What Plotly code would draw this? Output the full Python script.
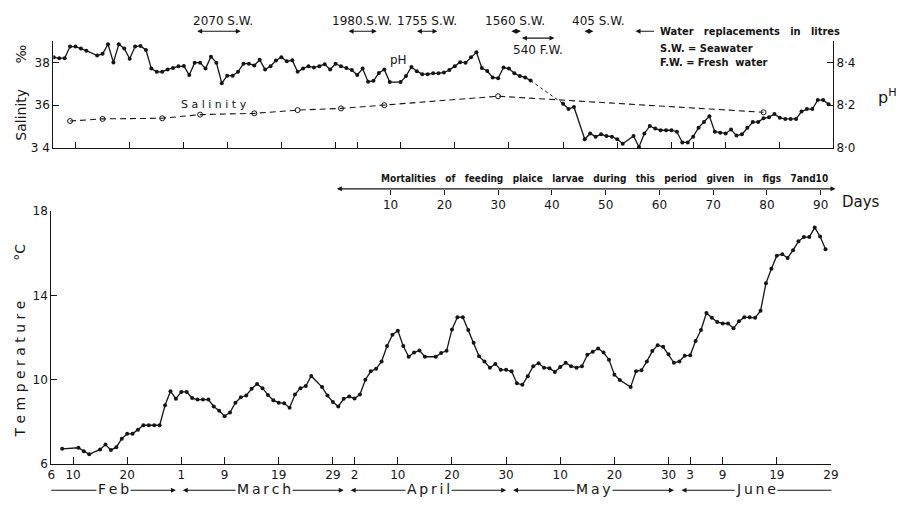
import pandas as pd
import plotly.graph_objects as go

# ---------------------------------------------------------------- data
START = pd.Timestamp("1956-02-06")

# date ticks along the time axis (day of month shown)
tick_dates = ["1956-02-06", "1956-02-10", "1956-02-20", "1956-03-01", "1956-03-09",
              "1956-03-19", "1956-03-29", "1956-04-02", "1956-04-10", "1956-04-20",
              "1956-04-30", "1956-05-10", "1956-05-20", "1956-05-30", "1956-06-03",
              "1956-06-09", "1956-06-19", "1956-06-29"]
tick_labels = ["6", "10", "20", "1", "9", "19", "29", "2", "10", "20", "30",
               "10", "20", "30", "3", "9", "19", "29"]

# temperature, °C (day = days after 6 Feb)
temp_days = [2, 5, 6, 7, 9, 10, 11, 12, 13, 14, 15, 16, 17, 18, 19, 20, 21, 22, 23, 24,
             25, 26, 27, 28, 29, 30, 31, 32, 33, 34, 35, 36, 37, 38, 39, 40, 41, 42, 43, 44,
             45, 46, 47, 48, 50, 51, 52, 53, 54, 55, 56, 57, 58, 59, 60, 61, 62, 63, 64, 65,
             66, 67, 68, 69, 71, 72, 73, 74, 75, 76, 77, 78, 79, 80, 81, 82, 83, 84, 85, 86,
             87, 88, 89, 90, 91, 92, 93, 94, 95, 96, 97, 98, 99, 100, 101, 102, 103, 104, 105,
             107, 108, 109, 110, 111, 112, 113, 114, 115, 116, 117, 118, 119, 120, 121, 122,
             123, 124, 125, 126, 127, 128, 129, 130, 131, 132, 133, 134, 135, 136, 137, 138,
             139, 140, 141, 142, 143]
temp_vals = [6.72, 6.77, 6.61, 6.46, 6.69, 6.92, 6.66, 6.80, 7.20, 7.43, 7.43, 7.62, 7.84,
             7.84, 7.84, 7.84, 8.79, 9.45, 9.10, 9.42, 9.42, 9.13, 9.06, 9.06, 9.06, 8.73,
             8.53, 8.27, 8.45, 8.91, 9.17, 9.25, 9.57, 9.80, 9.60, 9.28, 9.02, 8.91, 8.88,
             8.67, 9.30, 9.60, 9.70, 10.18, 9.65, 9.25, 8.94, 8.73, 9.10, 9.20, 9.11, 9.30,
             10.00, 10.40, 10.52, 10.87, 11.60, 12.13, 12.33, 11.60, 11.09, 11.29, 11.39,
             11.09, 11.09, 11.27, 11.37, 12.39, 12.97, 12.97, 12.36, 11.75, 11.11, 10.86,
             10.57, 10.75, 10.47, 10.47, 10.40, 9.83, 9.76, 10.17, 10.64, 10.78, 10.57, 10.55,
             10.37, 10.60, 10.80, 10.64, 10.57, 10.64, 11.18, 11.33, 11.48, 11.29, 10.95,
             10.24, 9.99, 9.65, 10.40, 10.45, 10.87, 11.36, 11.64, 11.56, 11.21, 10.80, 10.87,
             11.14, 11.16, 11.84, 12.36, 13.17, 12.94, 12.74, 12.67, 12.67, 12.44, 12.77,
             12.97, 12.97, 12.94, 13.28, 14.58, 15.27, 15.89, 15.96, 15.78, 16.15, 16.57,
             16.77, 16.77, 17.22, 16.80, 16.19]

# pH
ph_days = [0, 1, 2, 3, 4, 5, 6, 8, 9, 10, 11, 12, 13, 14, 15, 16, 17, 18, 19, 20, 21, 22,
           23, 24, 25, 26, 27, 28, 29, 30, 31, 32, 33, 34, 35, 36, 37, 38, 39, 40, 41, 42, 43,
           44, 45, 46, 47, 48, 49, 50, 51, 52, 53, 54, 55, 56, 57, 58, 59, 60, 61, 62, 64, 65,
           66, 67, 68, 69, 70, 71, 72, 73, 74, 75, 76, 77, 78, 79, 80, 81, 82, 83, 84, 85, 86,
           87, 88, 94, 95, 96, 98, 99, 100, 101, 102, 103, 104, 105, 107, 108, 109, 110, 111,
           112, 113, 114, 115, 116, 117, 118, 119, 120, 121, 122, 123, 124, 125, 126, 127,
           128, 129, 130, 131, 132, 133, 134, 135, 136, 137, 138, 139, 140, 141, 142, 143]
ph_vals = [8.424, 8.420, 8.420, 8.474, 8.474, 8.465, 8.455, 8.432, 8.440, 8.485, 8.400,
           8.485, 8.465, 8.417, 8.474, 8.477, 8.458, 8.371, 8.356, 8.356, 8.367, 8.374,
           8.382, 8.383, 8.341, 8.399, 8.399, 8.371, 8.427, 8.399, 8.303, 8.338, 8.338,
           8.356, 8.394, 8.394, 8.386, 8.412, 8.367, 8.382, 8.409, 8.424, 8.405, 8.410,
           8.356, 8.371, 8.382, 8.376, 8.382, 8.391, 8.367, 8.394, 8.382, 8.374, 8.364,
           8.341, 8.371, 8.310, 8.314, 8.351, 8.367, 8.308, 8.308, 8.336, 8.379, 8.359,
           8.345, 8.345, 8.349, 8.349, 8.353, 8.364, 8.382, 8.401, 8.399, 8.424, 8.447,
           8.374, 8.360, 8.330, 8.326, 8.376, 8.371, 8.349, 8.336, 8.330, 8.315, 8.207,
           8.182, 8.192, 8.041, 8.068, 8.053, 8.064, 8.056, 8.053, 8.041, 8.020, 8.056,
           8.005, 8.068, 8.103, 8.091, 8.083, 8.083, 8.083, 8.076, 8.026, 8.026, 8.053,
           8.095, 8.121, 8.148, 8.076, 8.071, 8.068, 8.086, 8.058, 8.064, 8.095, 8.121,
           8.121, 8.139, 8.144, 8.159, 8.141, 8.136, 8.136, 8.136, 8.170, 8.182, 8.182,
           8.224, 8.224, 8.205]

# salinity, ‰
sal_days = [3, 9, 20, 27, 37, 45, 53, 61, 82, 131]
sal_vals = [35.26, 35.36, 35.39, 35.56, 35.62, 35.77, 35.85, 36.00, 36.42, 35.67]

# water replacements (litres): label and period in days
repl_labels = ["2070 S.W.", "1980.S.W.", "1755 S.W.", "1560 S.W.", "540 F.W.", "405 S.W."]
repl_start = [26.3, 54.2, 66.8, 84.2, 86.2, 97.7]
repl_end = [34.5, 59.6, 70.8, 86.2, 92.4, 99.6]

# larval-feeding period, days
period_ticks = [10, 20, 30, 40, 50, 60, 70, 80, 90]

# month bands along the bottom
month_names = ["Feb", "March", "April", "May", "June"]
month_starts = ["1956-02-06", "1956-03-01", "1956-04-01", "1956-05-01", "1956-06-01"]
month_ends = ["1956-03-01", "1956-04-01", "1956-05-01", "1956-06-01", "1956-06-30"]

# ---------------------------------------------------------------- geometry
W, H = 910, 506
INK = "#151515"
FONT = "DejaVu Sans, Liberation Sans, sans-serif"
NARROW = "DejaVu Sans Condensed, Liberation Sans Narrow, DejaVu Sans, sans-serif"


def day_of(date):
    return (pd.Timestamp(date) - START).days


def px(xp):
    return xp / W


def py(yp):
    return 1 - yp / H


tick_days = [day_of(d) for d in tick_dates]

# bottom panel: Feb 6 .. Jun 29 over x = 48..838 px
BX0, BX1, B_RANGE = 48, 838, [0, 144]
B_SCALE = (BX1 - BX0) / (B_RANGE[1] - B_RANGE[0])
# top panel
TX0, TX1, T_RANGE = 50, 840, [-0.09, 143.8]
T_SCALE = (TX1 - TX0) / (T_RANGE[1] - T_RANGE[0])
# days-of-experiment axis
D_RANGE = [-53.1, 91.9]
D_SCALE = (BX1 - BX0) / (D_RANGE[1] - D_RANGE[0])

fig = go.Figure()

# temperature
fig.add_trace(go.Scatter(
    x=temp_days, y=temp_vals, xaxis="x", yaxis="y", mode="lines+markers",
    line=dict(color=INK, width=1.3), marker=dict(color=INK, size=4),
    showlegend=False, hoverinfo="skip"))

# pH: solid where readings are close, dotted across the long gap
solid_x, solid_y, dot_segments = [], [], []
for i, (d, v) in enumerate(zip(ph_days, ph_vals)):
    if i > 0 and d - ph_days[i - 1] > 3:
        solid_x.append(None)
        solid_y.append(None)
        dot_segments.append(([ph_days[i - 1], d], [ph_vals[i - 1], v]))
    solid_x.append(d)
    solid_y.append(v)

fig.add_trace(go.Scatter(
    x=solid_x, y=solid_y, xaxis="x2", yaxis="y3", mode="lines+markers",
    line=dict(color=INK, width=1.3), marker=dict(color=INK, size=4),
    showlegend=False, hoverinfo="skip", connectgaps=False))
for sx, sy in dot_segments:
    fig.add_trace(go.Scatter(
        x=sx, y=sy, xaxis="x2", yaxis="y3", mode="lines",
        line=dict(color=INK, width=1, dash="dot"), showlegend=False, hoverinfo="skip"))

# salinity
fig.add_trace(go.Scatter(
    x=sal_days, y=sal_vals, xaxis="x2", yaxis="y2", mode="lines+markers",
    line=dict(color=INK, width=1.1, dash="6px,4px"),
    marker=dict(symbol="circle-open", color=INK, size=5, line=dict(width=1)),
    showlegend=False, hoverinfo="skip"))

# anchor trace for the days axis
fig.add_trace(go.Scatter(
    x=period_ticks, y=[None] * len(period_ticks), xaxis="x3", yaxis="y",
    mode="markers", showlegend=False, hoverinfo="skip"))

axis_common = dict(showgrid=False, zeroline=False, showline=True, linecolor=INK,
                   linewidth=1.2, tickcolor=INK, tickwidth=1.1,
                   tickfont=dict(family=FONT, size=12, color=INK))

fig.update_layout(
    width=W, height=H, autosize=False,
    margin=dict(l=0, r=0, t=0, b=0),
    paper_bgcolor="white", plot_bgcolor="rgba(0,0,0,0)",
    xaxis=dict(domain=[px(BX0), px(BX1)], range=B_RANGE, anchor="y",
               tickmode="array", tickvals=tick_days, ticktext=tick_labels,
               ticks="inside", ticklen=7, **axis_common),
    yaxis=dict(domain=[py(470), py(210)], range=[6, 18], anchor="x",
               tickmode="array", tickvals=[6, 10, 14, 18],
               ticks="inside", ticklen=6, **axis_common),
    xaxis2=dict(domain=[px(TX0), px(TX1)], range=T_RANGE, anchor="y2",
                tickmode="array", tickvals=tick_days[1:], showticklabels=False,
                ticks="inside", ticklen=6, **axis_common),
    yaxis2=dict(domain=[py(145), py(35)], range=[34, 39], anchor="x2",
                tickmode="array", tickvals=[34, 36, 38], ticktext=["3 4", "36", "38"],
                ticks="inside", ticklen=6, **axis_common),
    yaxis3=dict(overlaying="y2", side="right", range=[8.0, 8.5], anchor="x2",
                tickmode="array", tickvals=[8.0, 8.2, 8.4],
                ticktext=["8·0", "8·2", "8·4"],
                ticks="inside", ticklen=6, **axis_common),
    xaxis3=dict(overlaying="x", anchor="free", position=py(187), side="bottom",
                range=D_RANGE, tickmode="array", tickvals=period_ticks,
                ticks="outside", ticklen=5, showgrid=False, zeroline=False,
                showline=False, tickcolor=INK, tickwidth=1.1,
                tickfont=dict(family=FONT, size=12, color=INK)),
)

ann = []


def text(x, y, s, size=12, family=FONT, angle=0, xanchor="center", **kw):
    ann.append(dict(x=px(x), y=py(y), xref="paper", yref="paper", text=s,
                    showarrow=False, textangle=angle, xanchor=xanchor, yanchor="middle",
                    font=dict(family=family, size=size, color=INK), **kw))


def arrow(xref, x_head, y, length_px, side="end", width=1.1):
    # arrow whose head sits at x_head (data units on xref) with its tail length_px away
    ann.append(dict(x=x_head, y=py(y), xref=xref, yref="paper", text="",
                    showarrow=True, ax=length_px, ay=0, axref="pixel", ayref="pixel",
                    arrowhead=2, arrowsize=0.9, arrowwidth=width, arrowcolor=INK,
                    arrowside=side, standoff=0, startstandoff=0))


# axis titles
text(17, 111, "Salinity", size=14, angle=-90)
text(17, 48, "‰", size=14, angle=-90)
text(16, 372, "T e m p e r a t u r e", size=14, angle=-90)
text(16, 252, "°C", size=14, angle=-90)
text(895, 92, "p<sup>H</sup>", size=16)
text(400, 55, "pH", size=12)
text(213, 100, "S a l i n i t y", size=11)

# water replacements
label_shift = {"2070 S.W.": 5, "405 S.W.": 10}
for lab, s, e in zip(repl_labels, repl_start, repl_end):
    below = "F.W." in lab
    ya = 32 if below else 25
    yt = 44 if below else 14
    arrow("x2", e, ya, -(e - s) * T_SCALE, side="end+start")
    xc = TX0 + ((s + e) / 2 - T_RANGE[0]) * T_SCALE + label_shift.get(lab, 0)
    text(xc, yt, lab, size=12)

arrow("paper", px(640), 25, 20, side="end")
text(663, 25, "<b>Water   replacements   in   litres</b>", size=11, family=NARROW,
     xanchor="left")
text(663, 43, "<b>S.W. = Seawater</b>", size=11, family=NARROW, xanchor="left")
text(663, 57, "<b>F.W. = Fresh  water</b>", size=11, family=NARROW, xanchor="left")

# larval-feeding period
arrow("x3", 0, 187, 91.8 * D_SCALE, side="end+start")
text(609, 176, "<b>Mortalities   of   feeding   plaice   larvae   during   this   period   "
     "given   in   figs   7and10</b>", size=10, family=NARROW)
text(868, 201, "Days", size=15)

# month bands
for i, (name, ms, me) in enumerate(zip(month_names, month_starts, month_ends)):
    d0 = max(day_of(ms), 0)
    d1 = min(day_of(me), B_RANGE[1])
    first, last = i == 0, i == len(month_names) - 1
    a0 = d0 if first else d0 + 0.4
    a1 = d1 if last else d1 - 1.0
    if first:
        arrow("x", a1, 497, -(a1 - a0) * B_SCALE, side="end")
    elif last:
        arrow("x", a0, 497, (a1 - a0) * B_SCALE, side="end")
    else:
        arrow("x", a1, 497, -(a1 - a0) * B_SCALE, side="end+start")
    xc = BX0 + ((a0 + a1) / 2 - B_RANGE[0]) * B_SCALE
    text(xc, 496, "\u2009".join(name), size=14, bgcolor="white", borderpad=1)

fig.update_layout(annotations=ann)
fig.write_html("out.html")
